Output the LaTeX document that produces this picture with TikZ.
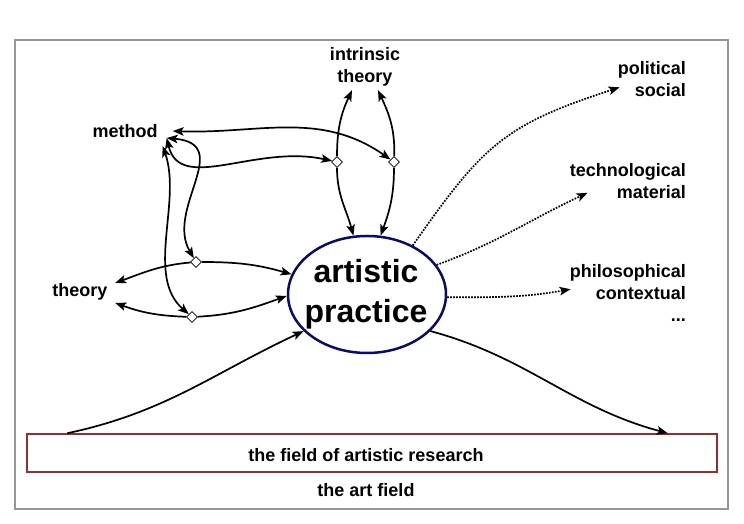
\documentclass[tikz,border=0pt]{standalone}
\usepackage{fontspec}
\setmainfont{Liberation Sans}
\usetikzlibrary{shapes.geometric,arrows.meta}
\definecolor{hubblue}{RGB}{10,10,105}
\definecolor{fieldred}{RGB}{150,45,45}
\definecolor{framegray}{RGB}{150,150,150}

\begin{document}
\begin{tikzpicture}[x=1pt, y=1pt,
		lbl/.style={font=\fontsize{18}{22}\selectfont\bfseries, inner sep=2pt},
		stack/.style={lbl, inner sep=0pt},
		junction/.style={diamond, draw, fill=white, line width=0.8pt, minimum width=11pt, minimum height=11pt, inner sep=0pt},
		link/.style={line width=1.7pt, -{Stealth[length=11pt,width=8.5pt,inset=2.5pt]}},
		twoway/.style={link, {Stealth[length=11pt,width=8.5pt,inset=2.5pt]}-{Stealth[length=11pt,width=8.5pt,inset=2.5pt]}},
		hint/.style={link, dash pattern=on 1.7pt off 1.3pt}]
		\useasboundingbox (0,0) rectangle (744,524);
		\draw[framegray, line width=2.5pt] (15,15) rectangle (728,484);
		
		\node[draw=fieldred, line width=1.5pt, minimum width=690pt, minimum height=38pt, inner sep=0pt] (field) at (372,71) {};
		\node[lbl, anchor=base] (fieldtext) at (366,62) {the field of artistic research};
		\node[lbl, anchor=base] (artfield) at (366,27) {the art field};
		
		\node[ellipse, draw=hubblue, line width=2.5pt, minimum width=158pt, minimum height=117pt, inner sep=0pt] (practice) at (367,229.5) {};
		\node[font=\fontsize{32}{40}\selectfont\bfseries, align=center, anchor=north, inner sep=0pt] (practicetext) at (366,265) {artistic\\practice};
		
		\node[lbl, anchor=base] (method) at (125,386) {method};
		\node[lbl, anchor=base] (theory) at (80,227) {theory};
		\node[stack, align=center, anchor=north] (intrinsic) at (365,477) {intrinsic\\theory};
		\node[stack, align=right, anchor=north east] (political) at (686,463) {political\\social};
		\node[stack, align=right, anchor=north east] (technological) at (686,361) {technological\\material};
		\node[stack, align=right, anchor=north east] (philosophical) at (686,260) {philosophical\\contextual\\...};
		
		\foreach \n/\x/\y in {j1/337/362, j2/394/362, j3/196/262, j4/192/207}
			\node[junction] (\n) at (\x,\y) {};
		
		\draw[twoway] ([shift={(13,0.5)}]method.east) to[out=-2,in=145] (j2);
		\draw[twoway] ([shift={(7,-6.5)}]method.east) .. controls (180,330) and (255,380) .. (j1);
		\draw[twoway] ([shift={(7,-6.5)}]method.east) .. controls (235,380) and (165,315) .. (j3);
		\draw[twoway] ([shift={(3,-14.5)}]method.east) .. controls (182,322) and (145,248) .. (j4);
		
		\draw[link] (j1) to[out=90,in=245] ([shift={(-13,-4)}]intrinsic.south);
		\draw[link] (j2) to[out=88,in=295] ([shift={(13,-4)}]intrinsic.south);
		\draw[link] (j1) to[out=-90,in=105] (practice.103);
		\draw[link] (j2) to[out=-90,in=70] (practice.77);
		\draw[link] (j3) to[out=185,in=20] ([shift={(5.5,9.4)}]theory.east);
		\draw[link] (j3) to[out=0,in=164] (practice.165);
		\draw[link] (j4) to[out=178,in=-20] ([shift={(5.5,-10.6)}]theory.east);
		\draw[link] (j4) to[out=3,in=200] (practice.181);
		
		\draw[link] ([xshift=41pt]field.north west) to[out=12,in=205] (practice.210);
		\draw[link] (practice.-30) to[out=-15,in=165] ([xshift=-50pt]field.north east);
		
		\draw[hint] (practice.47) to[out=55,in=198,looseness=1.2] ([shift={(2,-8.5)}]political.west);
		\draw[hint] (practice.23) to[out=20,in=205] ([shift={(18,-12)}]technological.west);
		\draw[hint] (practice.-2) to[out=0,in=190] ([shift={(1,3.5)}]philosophical.west);
	\end{tikzpicture}
\end{document}
